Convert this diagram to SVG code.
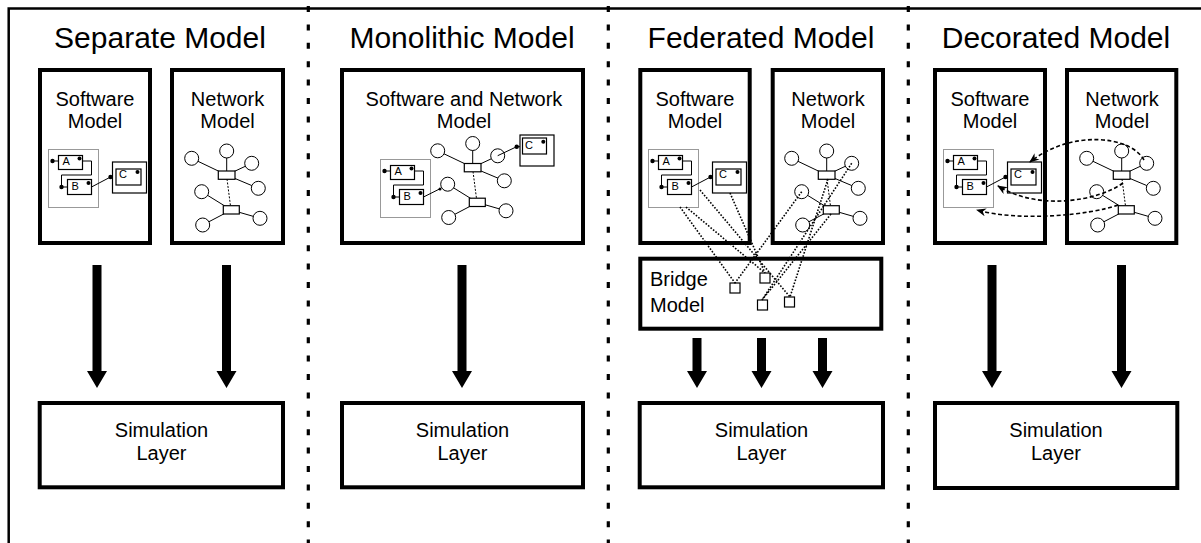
<svg xmlns="http://www.w3.org/2000/svg" width="1201" height="543" viewBox="0 0 1201 543">
<style>
.t{font-family:"Liberation Sans",Arial,Helvetica,sans-serif;fill:#000}
.title{font-size:30px;text-anchor:middle}
.lbl{font-size:20px;text-anchor:middle}
.lft{font-size:20px}
.abc{font-size:11px}
.box{fill:#fff;stroke:#000;stroke-width:4}
.div{stroke:#000;stroke-width:3.2;stroke-dasharray:6 12.4;fill:none}
.frame{stroke:#000;stroke-width:2.5;fill:none}
.sm{fill:#fff;stroke:#000;stroke-width:1.2}
.dot{fill:#000}
.ln{stroke:#000;stroke-width:1;fill:none}
.lnd{stroke:#000;stroke-width:1;stroke-dasharray:2 1.5;fill:none}
.grp{fill:#fff;stroke:#333;stroke-width:1;stroke-dasharray:1 1}
.br{stroke:#000;stroke-width:1.6;stroke-dasharray:1.6 1.6;fill:none}
.deco{stroke:#000;stroke-width:1.6;stroke-dasharray:4 2.5;fill:none}
.arr{fill:#000}
.circ{fill:#fff;stroke:#000;stroke-width:1}
</style>
<defs>
<marker id="ah" viewBox="0 0 10 8" refX="9" refY="4" markerWidth="10" markerHeight="8" markerUnits="userSpaceOnUse" orient="auto">
<path d="M0,0 L10,4 L0,8 L3,4 z" fill="#000"/>
</marker>
<g id="ab">
<rect class="grp" x="48.5" y="149.5" width="50" height="58"/>
<path class="ln" d="M52.5,161 H58.5 M82.5,161 H91.5 V175 H61.5 V187 H67.5"/>
<circle class="dot" cx="52.5" cy="161" r="2.2"/>
<circle class="dot" cx="61.5" cy="187" r="2.2"/>
<rect class="sm" x="58.5" y="155.5" width="24" height="14"/>
<rect class="sm" x="67.5" y="179.5" width="24" height="15"/>
<circle class="dot" cx="79.5" cy="158.5" r="2"/>
<circle class="dot" cx="88.5" cy="183" r="2"/>
<text class="t abc" x="62.5" y="164.5">A</text>
<text class="t abc" x="71.5" y="190">B</text>
</g>
<g id="net">
<path class="ln" d="M226.7,151 L226.7,175 M191.7,158.3 L226.7,175 M251.7,163.3 L226.7,175 M258.3,188.3 L226.7,175 M201.7,191.7 L231.3,210 M202.7,225 L231.3,210 M260,218.3 L231.3,210"/>
<path class="lnd" d="M227,179 L230.5,206"/>
<circle class="circ" cx="226.7" cy="151" r="7"/>
<circle class="circ" cx="191.7" cy="158.3" r="7"/>
<circle class="circ" cx="251.7" cy="163.3" r="7"/>
<circle class="circ" cx="258.3" cy="188.3" r="7"/>
<circle class="circ" cx="201.7" cy="191.7" r="7"/>
<circle class="circ" cx="202.7" cy="225" r="7"/>
<circle class="circ" cx="260" cy="218.3" r="7"/>
<rect class="sm" x="218.3" y="171" width="16.7" height="8.3"/>
<rect class="sm" x="223.3" y="205.7" width="16" height="8.3"/>
</g>
<g id="cbox">
<path class="ln" d="M91.5,187 L110.5,177 L116,177"/>
<rect class="sm" x="112.5" y="162" width="34" height="31"/>
<rect class="sm" x="116" y="169" width="25" height="16"/>
<circle class="dot" cx="110.5" cy="177" r="2.2"/>
<circle class="dot" cx="137.5" cy="172" r="2"/>
<text class="t abc" x="119" y="177.5">C</text>
</g>
</defs>

<g id="frame">
<path class="frame" d="M8.7,543 V8.5 H1201"/>
<path class="div" d="M308.3,6 V543 M608.3,6 V543 M908.3,6 V543"/>
</g>

<!-- Panel 1: Separate Model -->
<g id="title-separate"><text class="t title" x="160" y="48">Separate Model</text></g>
<g id="sep-software">
<rect class="box" x="40" y="70" width="110" height="173"/>
<text class="t lbl" x="95" y="106">Software</text>
<text class="t lbl" x="95" y="128">Model</text>
<use href="#ab"/>
<use href="#cbox"/>
</g>
<g id="sep-network">
<rect class="box" x="172" y="70" width="111" height="173"/>
<text class="t lbl" x="227.5" y="106">Network</text>
<text class="t lbl" x="227.5" y="128">Model</text>
<use href="#net"/>
</g>
<g id="sep-sim">
<rect class="box" x="39.7" y="403" width="243.3" height="84.3"/>
<text class="t lbl" x="161.5" y="437">Simulation</text>
<text class="t lbl" x="161.5" y="460">Layer</text>
</g>

<!-- Panel 2: Monolithic -->
<g id="title-mono"><text class="t title" x="462" y="48">Monolithic Model</text></g>
<g id="mono-model">
<rect class="box" x="342" y="70" width="241" height="173"/>
<text class="t lbl" x="464" y="106">Software and Network</text>
<text class="t lbl" x="464" y="128">Model</text>
<use href="#net" transform="translate(246,-7.5)"/>
<use href="#ab" transform="translate(332,10)"/>
<path class="ln" d="M423.5,197 L440.5,188.5"/>
<circle class="dot" cx="440" cy="189" r="1.5"/>
<path class="ln" d="M497.7,155.7 L516.7,146.7 L522.5,146.7"/>
<rect class="sm" x="520" y="135" width="34" height="31"/>
<rect class="sm" x="522.5" y="138" width="24" height="16"/>
<circle class="dot" cx="516.7" cy="146.7" r="2.2"/>
<circle class="dot" cx="543.3" cy="141.7" r="2"/>
<text class="t abc" x="525" y="148.5">C</text>
</g>
<g id="mono-sim">
<rect class="box" x="342" y="403" width="241" height="84.3"/>
<text class="t lbl" x="462.5" y="437">Simulation</text>
<text class="t lbl" x="462.5" y="460">Layer</text>
</g>

<!-- Panel 3: Federated -->
<g id="title-fed"><text class="t title" x="761" y="48">Federated Model</text></g>
<g id="fed-software">
<rect class="box" x="640.3" y="70" width="109.4" height="173"/>
<text class="t lbl" x="695" y="106">Software</text>
<text class="t lbl" x="695" y="128">Model</text>
<use href="#ab" transform="translate(600,0)"/>
<use href="#cbox" transform="translate(600,0)"/>
</g>
<g id="fed-network">
<rect class="box" x="772.7" y="70" width="110.3" height="173"/>
<text class="t lbl" x="828" y="106">Network</text>
<text class="t lbl" x="828" y="128">Model</text>
<use href="#net" transform="translate(600,0)"/>
</g>
<g id="fed-bridge">
<rect class="box" x="640.3" y="258.7" width="241" height="70"/>
<text class="t lft" x="650" y="286">Bridge</text>
<text class="t lft" x="650" y="312">Model</text>
<rect class="sm" x="730" y="283" width="10" height="10"/>
<rect class="sm" x="760" y="273" width="10" height="10"/>
<rect class="sm" x="757.5" y="300" width="10" height="10"/>
<rect class="sm" x="784.5" y="297" width="10" height="10"/>
</g>
<g id="fed-sim">
<rect class="box" x="639.7" y="403" width="243.3" height="84.3"/>
<text class="t lbl" x="761.5" y="437">Simulation</text>
<text class="t lbl" x="761.5" y="460">Layer</text>
</g>

<!-- Panel 4: Decorated -->
<g id="title-deco"><text class="t title" x="1056" y="48">Decorated Model</text></g>
<g id="deco-software">
<rect class="box" x="935" y="70" width="110" height="173"/>
<text class="t lbl" x="990" y="106">Software</text>
<text class="t lbl" x="990" y="128">Model</text>
<use href="#ab" transform="translate(895,0)"/>
<use href="#cbox" transform="translate(895,0)"/>
</g>
<g id="deco-network">
<rect class="box" x="1067" y="70" width="109.3" height="173"/>
<text class="t lbl" x="1122" y="106">Network</text>
<text class="t lbl" x="1122" y="128">Model</text>
<use href="#net" transform="translate(895,0)"/>
</g>
<g id="deco-sim">
<rect class="box" x="935" y="403" width="242.3" height="85"/>
<text class="t lbl" x="1056" y="437">Simulation</text>
<text class="t lbl" x="1056" y="460">Layer</text>
</g>

<g id="connectors">
<polygon class="arr" points="92.5,265 101.5,265 101.5,371 107,371 97,388 87,371 92.5,371"/>
<polygon class="arr" points="222,265 231,265 231,371 236.5,371 226.5,388 216.5,371 222,371"/>
<polygon class="arr" points="457.5,265 466.5,265 466.5,371 472,371 462,388 452,371 457.5,371"/>
<polygon class="arr" points="692.5,338 701.5,338 701.5,371 707,371 697,388 687,371 692.5,371"/>
<polygon class="arr" points="757,338 766,338 766,371 771.5,371 761.5,388 751.5,371 757,371"/>
<polygon class="arr" points="818,338 827,338 827,371 832.5,371 822.5,388 812.5,371 818,371"/>
<polygon class="arr" points="987.5,265 996.5,265 996.5,371 1002,371 992,388 982,371 987.5,371"/>
<polygon class="arr" points="1117,265 1126,265 1126,371 1131.5,371 1121.5,388 1111.5,371 1117,371"/>
<path class="br" d="M680,207 L735,283 M686,207 L765,273 M700,190 L790,297 M730,193 L765,273 M801.7,191.7 L735,283 M851.7,163.3 L762,300 M831,214 L762,300 M828,179 L790,297"/>
<path class="deco" marker-end="url(#ah)" d="M1144,160 C1130,135 1070,130 1030,162"/>
<path class="deco" marker-end="url(#ah)" d="M1123,183 C1100,200 1040,212 998,186"/>
<path class="deco" marker-end="url(#ah)" d="M1118,205 C1090,215 1020,222 977,210"/>
</g>
</svg>
